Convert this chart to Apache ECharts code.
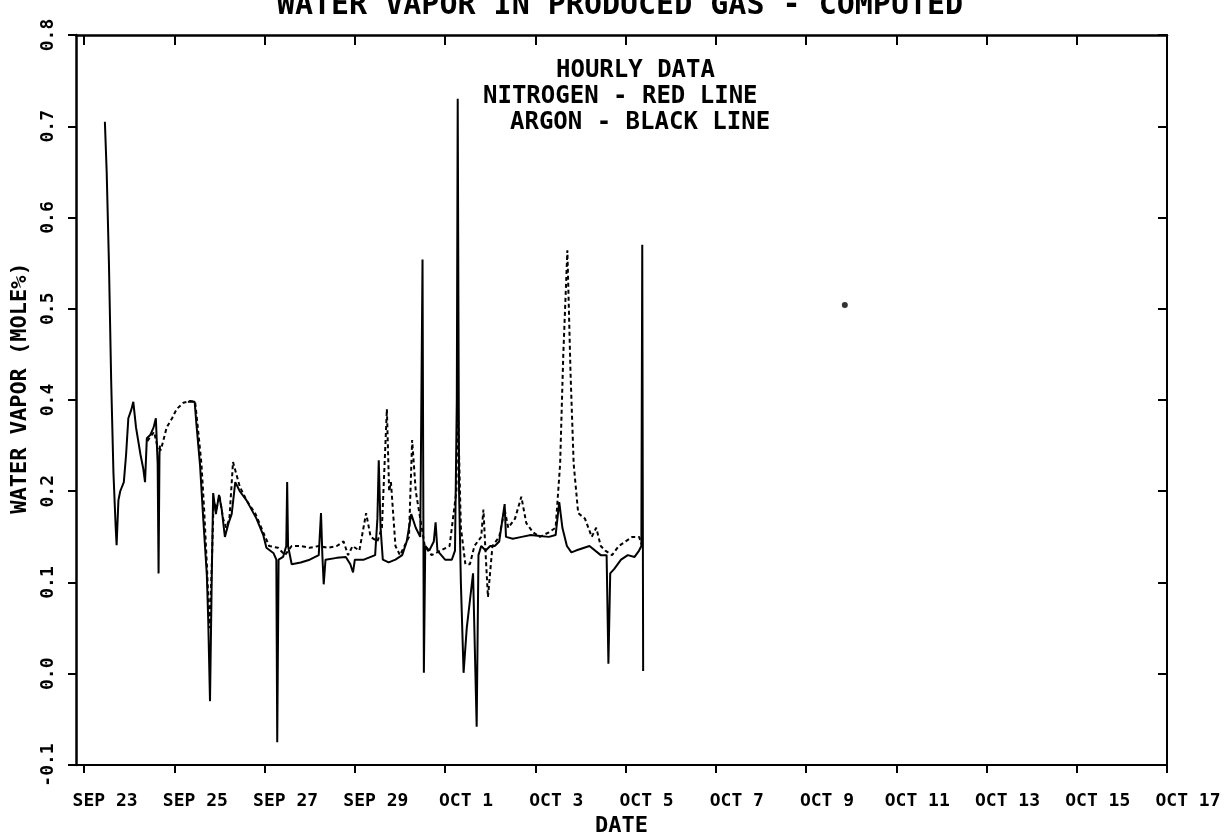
<!DOCTYPE html>
<html>
<head>
<meta charset="utf-8">
<script src="https://cdn.jsdelivr.net/npm/echarts@6/dist/echarts.min.js"></script>
<style>
html,body{margin:0;padding:0;background:#fff;}
#chart{width:1224px;height:833px;}
</style>
</head>
<body>
<div id="chart"></div>
<script>
// x values: days since SEP 23 00:00
const xTickDays = [0, 2, 4, 6, 8, 10, 12, 14, 16, 18, 20, 22, 24];
const xTickLabels = ["SEP 23", "SEP 25", "SEP 27", "SEP 29", "OCT 1", "OCT 3", "OCT 5", "OCT 7", "OCT 9", "OCT 11", "OCT 13", "OCT 15", "OCT 17"];
const yTickLabels = ["-0.1", "0.0", "0.1", "0.2", "0.4", "0.5", "0.6", "0.7", "0.8"];
const titleText = "WATER VAPOR IN PRODUCED GAS - COMPUTED";
const noteLines = ["HOURLY DATA", "NITROGEN - RED LINE", "ARGON - BLACK LINE"];

// Argon (solid black line)
const argon = [
  [0.46, 0.605], [0.50, 0.55], [0.55, 0.45], [0.60, 0.32], [0.65, 0.22], [0.70, 0.16], [0.72, 0.141], [0.76, 0.19],
  [0.80, 0.20], [0.88, 0.21], [0.93, 0.24], [0.98, 0.28], [1.05, 0.29], [1.09, 0.298], [1.15, 0.27],
  [1.25, 0.24], [1.31, 0.225], [1.35, 0.21], [1.39, 0.258], [1.47, 0.262], [1.54, 0.27], [1.59, 0.28],
  [1.63, 0.23], [1.65, 0.11], [1.67, 0.24], [1.68, 0.25], [1.70, null],
  [2.30, 0.298], [2.45, 0.298], [2.49, 0.273], [2.57, 0.228], [2.64, 0.17], [2.72, 0.108], [2.75, 0.06],
  [2.79, -0.03], [2.83, 0.11], [2.86, 0.198], [2.92, 0.175], [2.99, 0.196], [3.05, 0.18], [3.12, 0.15],
  [3.20, 0.165], [3.27, 0.175], [3.35, 0.21], [3.45, 0.20], [3.60, 0.19], [3.82, 0.17], [3.97, 0.152],
  [4.04, 0.138], [4.20, 0.132], [4.26, 0.125], [4.28, -0.075], [4.31, 0.125], [4.41, 0.128], [4.48, 0.14],
  [4.50, 0.21], [4.52, 0.14], [4.60, 0.12], [4.80, 0.122], [5.00, 0.125], [5.20, 0.13], [5.25, 0.176],
  [5.28, 0.13], [5.31, 0.098], [5.35, 0.125], [5.60, 0.127], [5.80, 0.128], [5.90, 0.12], [5.96, 0.111],
  [6.00, 0.125], [6.10, 0.125], [6.20, 0.125], [6.45, 0.13], [6.50, 0.17], [6.53, 0.234], [6.57, 0.16],
  [6.62, 0.125], [6.75, 0.122], [6.90, 0.125], [7.05, 0.13], [7.15, 0.145], [7.25, 0.175], [7.35, 0.16],
  [7.45, 0.15], [7.50, 0.454], [7.53, 0.001], [7.56, 0.14], [7.65, 0.135], [7.75, 0.145], [7.79, 0.166],
  [7.83, 0.135], [8.00, 0.125], [8.15, 0.125], [8.22, 0.135], [8.26, 0.30], [8.28, 0.63], [8.31, 0.20],
  [8.35, 0.10], [8.41, 0.001], [8.48, 0.05], [8.55, 0.08], [8.62, 0.11], [8.66, 0.11], [8.70, -0.058],
  [8.74, 0.13], [8.80, 0.14], [8.90, 0.135], [9.00, 0.14], [9.10, 0.14], [9.20, 0.145], [9.32, 0.186],
  [9.35, 0.15], [9.50, 0.148], [9.70, 0.15], [9.90, 0.152], [10.10, 0.151], [10.30, 0.15], [10.45, 0.152],
  [10.53, 0.188], [10.60, 0.16], [10.70, 0.14], [10.80, 0.133], [10.90, 0.135], [11.20, 0.14], [11.45, 0.13],
  [11.58, 0.13], [11.62, 0.011], [11.66, 0.11], [11.75, 0.115], [11.90, 0.125], [12.05, 0.13], [12.20, 0.128],
  [12.30, 0.135], [12.35, 0.14], [12.37, 0.47], [12.39, 0.003]
];

// Nitrogen (dashed line)
const nitrogen = [
  [1.40, 0.255], [1.55, 0.265], [1.62, 0.25], [1.70, 0.245], [1.83, 0.27], [1.95, 0.28], [2.05, 0.29],
  [2.20, 0.297], [2.35, 0.299], [2.46, 0.298], [2.52, 0.27], [2.60, 0.23], [2.66, 0.18], [2.72, 0.12],
  [2.78, 0.05], [2.83, 0.12], [2.87, 0.19], [2.93, 0.18], [3.00, 0.195], [3.08, 0.17], [3.15, 0.16],
  [3.22, 0.17], [3.30, 0.232], [3.45, 0.205], [3.60, 0.19], [3.80, 0.175], [3.97, 0.155], [4.10, 0.14],
  [4.30, 0.138], [4.45, 0.13], [4.60, 0.14], [4.80, 0.14], [5.00, 0.138], [5.20, 0.14], [5.40, 0.138],
  [5.60, 0.14], [5.75, 0.145], [5.85, 0.13], [5.95, 0.14], [6.10, 0.135], [6.25, 0.176], [6.35, 0.15],
  [6.50, 0.145], [6.60, 0.16], [6.71, 0.29], [6.76, 0.20], [6.80, 0.21], [6.90, 0.14], [7.00, 0.13],
  [7.10, 0.14], [7.20, 0.15], [7.27, 0.256], [7.35, 0.20], [7.45, 0.17], [7.55, 0.14], [7.70, 0.13],
  [7.90, 0.135], [8.10, 0.14], [8.25, 0.20], [8.28, 0.30], [8.35, 0.16], [8.45, 0.12], [8.55, 0.12],
  [8.65, 0.14], [8.80, 0.15], [8.85, 0.18], [8.90, 0.13], [8.95, 0.084], [9.05, 0.14], [9.20, 0.15],
  [9.32, 0.18], [9.40, 0.16], [9.55, 0.17], [9.69, 0.194], [9.80, 0.165], [9.95, 0.155], [10.10, 0.15],
  [10.30, 0.155], [10.45, 0.16], [10.55, 0.23], [10.62, 0.35], [10.71, 0.464], [10.78, 0.33], [10.85, 0.23],
  [10.95, 0.176], [11.10, 0.17], [11.25, 0.15], [11.35, 0.16], [11.45, 0.14], [11.55, 0.135], [11.70, 0.13],
  [11.85, 0.14], [12.00, 0.145], [12.15, 0.15], [12.30, 0.15], [12.37, 0.14]
];

// stray plotted point
const strayPoint = [[16.86, 0.404]];

const FONT = "DejaVu Sans Mono";
const chart = echarts.init(document.getElementById('chart'), null, {renderer: 'canvas'});

const xFmt = v => {
  const i = xTickDays.indexOf(Math.round(v));
  return i >= 0 ? xTickLabels[i] : '';
};
const yFmt = v => {
  const i = Math.round((v + 0.1) / 0.1);
  return yTickLabels[i] !== undefined ? yTickLabels[i] : '';
};

const axisLine = (w) => ({show: true, onZero: false, lineStyle: {color: '#000', width: w}});

chart.setOption({
  backgroundColor: '#fff',
  animation: false,
  grid: {left: 76, right: 57, top: 35, bottom: 68, containLabel: false, outerBoundsMode: 'none'},
  xAxis: [
    {
      type: 'value', position: 'bottom', min: -0.18, max: 24,
      axisLine: axisLine(2),
      axisTick: {show: true, inside: false, length: 8, lineStyle: {color: '#000', width: 2}, customValues: xTickDays},
      axisLabel: {show: true, margin: 27, customValues: xTickDays, formatter: xFmt, align: 'center',
        padding: [0, 0, 0, 42], hideOverlap: false,
        fontFamily: FONT, fontSize: 18, fontWeight: 'bold', color: '#000'},
      splitLine: {show: false},
      name: 'DATE', nameLocation: 'middle', nameGap: 50,
      nameTextStyle: {fontFamily: FONT, fontSize: 22, fontWeight: 'bold', color: '#000'}
    },
    {
      type: 'value', position: 'top', min: -0.18, max: 24,
      axisLine: axisLine(2.5),
      axisTick: {show: true, inside: true, length: 10, lineStyle: {color: '#000', width: 2}, customValues: xTickDays},
      axisLabel: {show: false},
      splitLine: {show: false}
    }
  ],
  yAxis: [
    {
      type: 'value', position: 'left', min: -0.1, max: 0.7, interval: 0.1,
      axisLine: axisLine(2.5),
      axisTick: {show: true, inside: false, length: 8, lineStyle: {color: '#000', width: 2}},
      axisLabel: {show: true, rotate: 90, margin: 28, formatter: yFmt, align: 'center', verticalAlign: 'middle',
        fontFamily: FONT, fontSize: 18, fontWeight: 'bold', color: '#000'},
      splitLine: {show: false},
      name: 'WATER VAPOR (MOLE%)', nameLocation: 'middle', nameGap: 38, nameRotate: 90,
      nameTextStyle: {fontFamily: FONT, fontSize: 22, fontWeight: 'bold', color: '#000', padding: [0, 0, 0, 24]}
    },
    {
      type: 'value', position: 'right', min: -0.1, max: 0.7, interval: 0.1,
      axisLine: axisLine(2),
      axisTick: {show: true, inside: true, length: 9, lineStyle: {color: '#000', width: 2}},
      axisLabel: {show: false},
      splitLine: {show: false}
    }
  ],
  graphic: [
    {type: 'text', x: 620, y: 6, style: {text: titleText, fontFamily: FONT, fontSize: 30, fontWeight: 'bold', fill: '#000', align: 'center', verticalAlign: 'middle'}},
    {type: 'text', x: 556, y: 59, style: {text: noteLines[0], fontFamily: FONT, fontSize: 24, fontWeight: 'bold', fill: '#000'}},
    {type: 'text', x: 483, y: 85, style: {text: noteLines[1], fontFamily: FONT, fontSize: 24, fontWeight: 'bold', fill: '#000'}},
    {type: 'text', x: 510, y: 111, style: {text: noteLines[2], fontFamily: FONT, fontSize: 24, fontWeight: 'bold', fill: '#000'}}
  ],
  series: [
    {
      name: 'NITROGEN', type: 'line', data: nitrogen, showSymbol: false, connectNulls: false,
      lineStyle: {color: '#000', width: 2, type: [4, 3]}, z: 2
    },
    {
      name: 'ARGON', type: 'line', data: argon, showSymbol: false, connectNulls: false,
      lineStyle: {color: '#000', width: 2}, z: 3
    },
    {
      name: 'POINT', type: 'scatter', data: strayPoint, symbolSize: 6,
      itemStyle: {color: '#000'}
    }
  ]
});
</script>
</body>
</html>
